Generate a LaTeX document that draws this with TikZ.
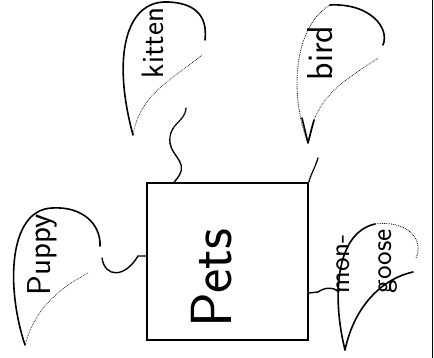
\documentclass[tikz,border=0pt]{standalone}
\begin{document}
\begin{tikzpicture}[
    x=1pt, y=1pt,
    bubble/.style={line width=1.6pt, line join=round, line cap=round},
    inner/.style={line width=0.7pt, densely dotted},
    link/.style={line width=1.4pt, line cap=round},
    faint/.style={line width=0.8pt, densely dotted},
    word/.style={rotate=90, inner sep=0pt},
  ]
    \useasboundingbox (0,0) rectangle (434,358);
    % right edge
    \draw[line width=0.8pt] (432,0) -- (432,358);

    % Pets box
    \node[draw, line width=1.8pt, minimum width=161pt, minimum height=157pt, inner sep=0pt] (pets) at (227.5,96.5) {};
    \node[word, font=\sffamily\fontsize{58}{58}\selectfont] (petslbl) at (212,80) {Pets};

    % kitten
    \draw[bubble] (133,223) .. controls (112,300) and (125,358) .. (168,356) .. controls (192,355) and (208,345) .. (205,318);
    \draw[inner] (202,303) .. controls (175,280) and (140,265) .. (133,223);
    \coordinate (kittenend) at (186,250);
    \node[word, font=\sffamily\fontsize{31}{31}\selectfont] (kitten) at (153,315) {kitten};

    % bird
    \draw[faint] (308,215) .. controls (290,260) and (292,330) .. (330,353);
    \draw[bubble] (330,353) .. controls (370,355) and (390,330) .. (383,313);
    \draw[inner] (378,300) .. controls (350,280) and (315,265) .. (308,215);
    \draw[bubble] (302,240) -- (308,215) -- (314,238);
    \coordinate (birdend) at (318,200);
    \node[word, font=\sffamily\fontsize{36}{36}\selectfont] (bird) at (320,305) {bird};

    % puppy
    \draw[bubble] (25,13) .. controls (6,70) and (8,148) .. (52,150) .. controls (82,152) and (101,134) .. (100,112);
    \draw[inner] (88,85) .. controls (60,70) and (35,50) .. (25,13);
    \coordinate (puppyend) at (102,100);
    \node[word, font=\sffamily\fontsize{33}{33}\selectfont] (puppy) at (42,103) {Puppy};

    % mongoose
    \draw[bubble] (345,8) .. controls (332,60) and (335,125) .. (375,134);
    \draw[faint] (375,134) .. controls (405,138) and (425,120) .. (416,100);
    \draw[bubble] (413,86) .. controls (385,80) and (355,55) .. (345,8);
    \coordinate (mongooseend) at (339,66);
    \node[word, align=left, font=\sffamily\fontsize{29}{42}\selectfont] (mongoose) at (367,97) {mon-\\goose};

    % links
    \draw[link, densely dotted] (kittenend) .. controls (185,235) and (168,235) .. (170,215);
    \draw[link] (170,215) .. controls (172,200) and (192,195) .. ([xshift=28pt]pets.north west);
    \draw[link, densely dotted] (birdend) .. controls (315,190) and (310,182) .. (pets.north east);
    \draw[link] (puppyend) .. controls (105,80) and (125,80) .. (138,102) -- ([yshift=5.5pt]pets.west);
    \draw[link] ([yshift=-31.5pt]pets.east) -- (318,66) .. controls (325,71) and (334,71) .. (mongooseend);
\end{tikzpicture}
\end{document}
